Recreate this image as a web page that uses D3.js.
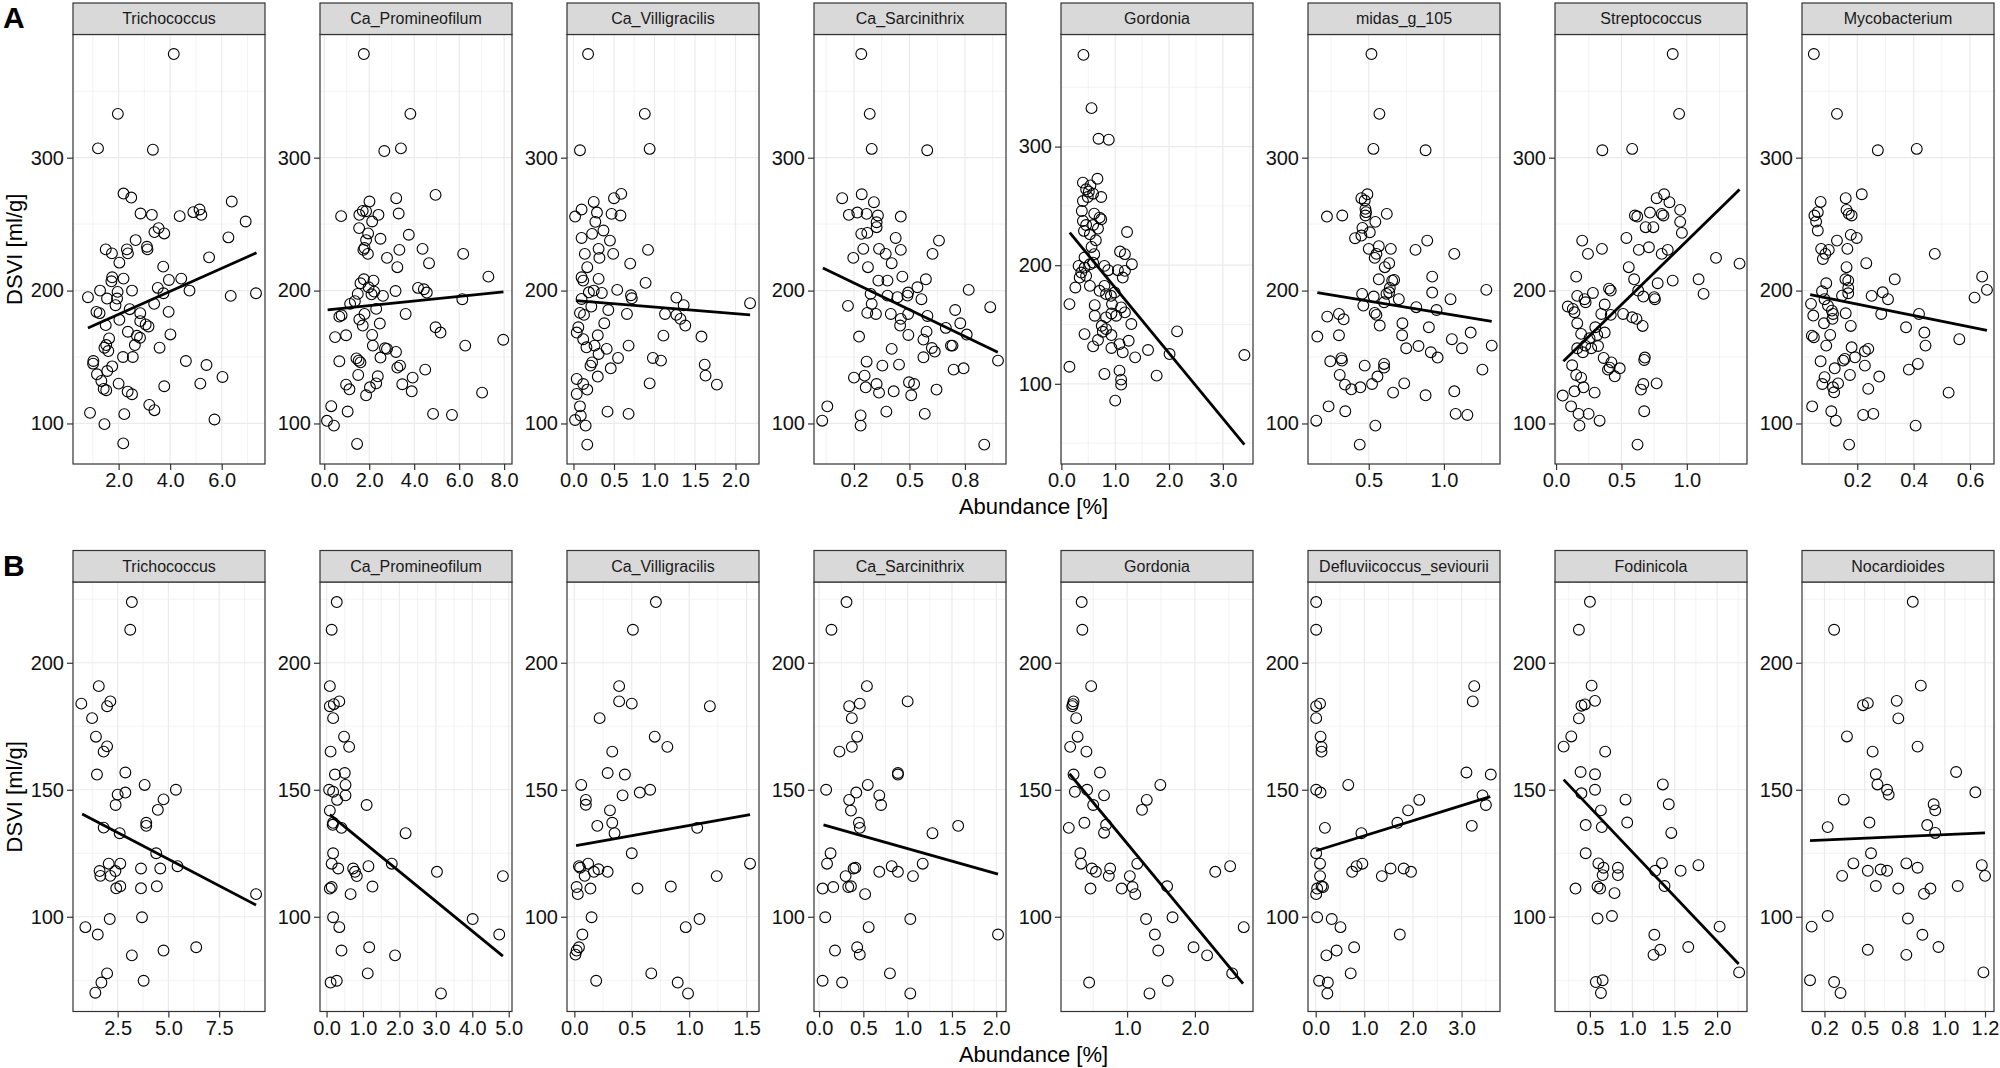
<!DOCTYPE html>
<html>
<head>
<meta charset="utf-8">
<script src="https://cdn.jsdelivr.net/npm/d3@7/dist/d3.min.js"></script>
<style>
  body { margin: 0; background: #fff; }
  text { font-family: Arial, "Liberation Sans", sans-serif; }
</style>
</head>
<body>
<svg id="chart" width="2000" height="1068"></svg>
<script>
// ---- data: [abundance %, DSVI ml/g] ----
const A_Trichococcus = [[4.14,378],[1.97,333],[1.2,307],[3.33,306],[2.19,273],[2.49,270],[2.85,258],[3.29,257],[4.37,256],[4.9,259],[5.14,261],[5.21,257],[6.39,267],[6.93,252],[6.26,240],[2.66,238],[3.1,233],[3.12,231],[3.39,244],[3.55,247],[3.77,243],[1.5,231],[1.74,228],[2.03,221],[2.32,231],[2.36,228],[3.73,218],[5.51,225],[4.43,209],[3.95,208],[2.19,209],[1.75,210],[1.72,207],[1.28,200],[0.81,195],[1.55,194],[1.96,199],[1.94,194],[1.88,189],[2.52,200],[3.52,202],[3.74,198],[4.75,200],[6.35,196],[7.33,198],[1.14,184],[1.26,183],[2.43,186],[2.84,183],[2.84,177],[3.05,174.5],[3.16,173],[3.38,190],[3.94,184],[2.03,178],[1.5,174],[2.36,169],[2.71,166],[2.83,164.5],[2.63,159],[1.63,164],[1.52,159],[1.45,157],[1.6,154.5],[4.01,167],[3.59,157],[4.61,147],[5.41,144],[2.17,150],[2.55,150],[1.02,147],[1.01,145],[1.16,137],[1.75,143],[1.56,139.5],[1.33,132],[1.42,126],[1.52,125],[2.0,130],[2.35,124],[2.52,122],[3.77,128],[5.17,130],[6.03,135],[3.19,114],[3.39,110],[0.89,108],[2.22,107],[1.45,99.5],[5.72,103],[2.18,85]];
const A_Promineofilum = [[1.76,378],[3.83,333],[2.67,305],[3.41,307],[4.95,272],[3.2,269.5],[2.01,267],[3.31,258],[0.75,256],[1.56,257],[1.71,260],[1.86,259.7],[2.41,257],[2.13,252],[1.55,247],[1.95,243],[2.5,239],[3.76,242],[1.86,238],[1.79,232],[1.74,230.6],[1.94,227.6],[3.34,230.6],[4.37,231.4],[6.18,227.6],[2.79,224.6],[4.66,220.6],[3.25,217.6],[7.3,210.5],[1.76,208.5],[2.19,207.5],[1.61,205.5],[1.97,202.5],[2.22,199.2],[2.1,197.2],[2.61,196],[1.49,197.5],[1.15,190],[1.36,192],[3.17,199.7],[4.17,202],[4.43,201],[4.56,198.5],[6.14,193.5],[0.77,181.4],[0.67,180.4],[1.79,182.4],[2.31,186.2],[1.56,178.2],[1.71,173.7],[2.47,175.2],[3.62,182.4],[4.95,172.4],[5.17,168.4],[0.48,165],[0.97,166.4],[2.13,166.6],[2.16,158.6],[6.27,158.6],[7.96,163],[2.7,156.6],[2.79,156.1],[3.19,153.8],[0.67,146.8],[1.43,149],[1.53,147.3],[1.61,146],[2.5,149.6],[3.25,142],[3.37,143.5],[4.49,140.5],[1.51,136.5],[2.38,135.5],[2.31,130.2],[0.97,129.2],[1.12,125.7],[2.03,127.2],[1.86,121.2],[3.47,129.5],[3.93,134.5],[3.89,124.2],[7.02,123.2],[0.31,113],[1.04,109],[4.84,107.2],[5.68,106.4],[0.12,102],[0.43,98.4],[1.46,84.6]];
const A_Villigracilis = [[0.18,378],[0.88,333],[0.94,306.6],[0.08,305.6],[0.59,272.8],[0.5,269.5],[0.25,266.7],[0.1,261],[0.02,255.7],[0.29,258.7],[0.47,257.7],[0.58,256.5],[0.27,251.7],[0.37,245.2],[0.23,242.7],[0.1,239.6],[0.45,237.6],[0.31,231.4],[0.49,227.6],[0.14,227.6],[0.32,224.6],[0.92,230.6],[0.7,220.3],[0.17,217.6],[0.1,210],[0.12,207.5],[0.31,208.8],[0.89,205.8],[0.54,200.5],[0.25,200],[0.35,198.2],[0.19,198.7],[0.1,193.7],[0.71,196.5],[0.72,194.2],[1.27,194.7],[1.36,189],[0.22,188],[0.43,185.4],[0.08,183.2],[0.13,181.7],[0.66,182.4],[1.13,182.4],[1.27,181.7],[1.32,178.7],[1.38,173.7],[0.38,175.4],[0.06,172.4],[0.04,168.4],[0.12,163.4],[0.3,166.4],[1.11,166.1],[1.58,165.4],[0.68,158.6],[0.16,157.3],[0.26,158.6],[0.41,156.1],[0.31,152.3],[0.98,149.3],[1.08,147.3],[0.55,149.3],[0.23,146],[0.21,143.5],[0.46,141.5],[0.3,135.3],[1.62,144.3],[1.63,136],[1.77,129.2],[0.04,133.5],[0.12,129.7],[0.04,122.2],[0.17,125.5],[0.94,130.2],[0.08,112.9],[0.09,105.9],[0.02,102.6],[0.15,98.4],[0.42,108.9],[0.68,107.2],[0.17,84.1],[2.18,190.5]];
const A_Sarcinithrix = [[0.283,378],[0.321,333],[0.33,306.6],[0.58,305.6],[0.197,269.5],[0.285,272.5],[0.34,266.5],[0.227,257],[0.265,258.7],[0.307,257.7],[0.358,256.5],[0.352,251.4],[0.352,247.7],[0.461,255.7],[0.283,242.7],[0.31,243.4],[0.438,239.6],[0.633,237.6],[0.292,231.4],[0.363,231.4],[0.461,230.6],[0.393,227.6],[0.604,227.6],[0.247,224.6],[0.42,220.6],[0.313,217.6],[0.468,210.5],[0.36,207.5],[0.401,207.5],[0.574,208.5],[0.536,202.5],[0.767,200.5],[0.325,197.5],[0.401,196.2],[0.446,195],[0.494,198.5],[0.491,196.2],[0.554,193.5],[0.33,190],[0.223,188.5],[0.864,187.5],[0.31,183.2],[0.349,182.4],[0.416,182.4],[0.494,182.4],[0.581,180.9],[0.706,185.4],[0.461,178.7],[0.458,173.7],[0.664,171.9],[0.729,175.4],[0.758,166.9],[0.273,165.4],[0.495,166.6],[0.577,169.1],[0.563,163.1],[0.687,158.6],[0.694,158.6],[0.601,156.8],[0.614,154.1],[0.42,156.1],[0.563,149.8],[0.307,146.5],[0.899,147.3],[0.378,143.5],[0.453,144.3],[0.699,140.5],[0.744,141.5],[0.25,134.5],[0.298,136],[0.303,127.2],[0.352,129.7],[0.363,123.2],[0.429,124.2],[0.498,131],[0.521,129.7],[0.508,121.2],[0.622,125.5],[0.13,112.9],[0.107,102.1],[0.28,106.1],[0.28,98.4],[0.396,108.9],[0.569,107.2],[0.837,84.1]];
const A_Gordonia = [[0.41,377.3],[0.56,332.4],[0.69,306.6],[0.88,305.8],[0.4,269.6],[0.67,272.9],[0.54,267.3],[0.46,264],[0.51,262],[0.74,257.5],[0.4,254.1],[0.49,257.5],[0.59,260.3],[0.38,245.7],[0.61,243.5],[0.71,240.1],[0.74,238.7],[0.4,237.3],[0.46,233.9],[0.59,233.9],[0.68,230.9],[0.42,228.9],[0.53,226.1],[0.64,221],[1.22,228],[0.56,215.4],[0.61,209.3],[0.43,206.5],[0.59,202.2],[0.32,199.4],[0.43,198],[0.53,200.8],[1.09,211.5],[1.18,209.3],[0.8,199.4],[0.87,195.8],[0.37,193.8],[0.46,191],[0.34,189.6],[1.05,195.8],[1.18,195.2],[1.31,200.8],[1.14,189.6],[0.26,181.2],[0.53,182.6],[0.8,182.6],[0.71,178.4],[0.92,174.2],[0.83,175.6],[0.99,177],[0.15,167.2],[0.62,166.3],[0.94,167.2],[1.11,164.4],[1.18,160.2],[0.93,159.3],[0.83,156],[1.02,157.4],[0.62,157.4],[1.3,150.4],[0.43,141.9],[0.75,148.9],[0.83,146.1],[0.77,143.9],[0.93,141.1],[1.25,136.3],[0.68,136.9],[0.59,131.6],[0.93,130.2],[1.08,133.5],[1.14,126.5],[1.37,122.3],[1.61,128.5],[2.01,125.1],[2.15,144.2],[3.4,124.3],[0.15,114.4],[0.8,108.3],[1.08,111.1],[1.11,103.5],[1.11,99.3],[1.0,85.8],[1.77,106.9]];
const A_midas105 = [[0.518,378],[0.571,333],[0.531,306.6],[0.878,305.6],[0.491,272.5],[0.451,269.5],[0.473,267.8],[0.478,261.5],[0.482,259],[0.478,256.5],[0.222,255.7],[0.324,256.5],[0.62,257.7],[0.544,251.7],[0.458,247.2],[0.507,243.9],[0.409,239.4],[0.451,241.4],[0.889,237.6],[0.5,231.4],[0.567,233.4],[0.647,231.4],[0.811,230.6],[0.551,227.6],[0.54,224.6],[1.069,227.6],[0.607,217.6],[0.636,220.6],[0.567,208.5],[0.656,207.5],[0.669,208],[0.922,210.5],[0.64,202],[0.636,198.7],[0.618,197.5],[0.456,197.5],[0.533,195.5],[0.922,198.5],[1.044,193.5],[1.282,200.5],[0.464,188.7],[0.602,191.2],[0.7,193.5],[0.816,187.5],[0.951,185.4],[0.302,182.4],[0.224,180.4],[0.333,178.4],[0.54,183.2],[0.551,181.7],[0.573,173.7],[0.724,175.4],[0.9,172.4],[0.158,165.4],[0.302,166.4],[0.722,166.4],[1.178,168.4],[1.053,163.4],[1.12,156.6],[1.318,158.6],[0.749,156.6],[0.831,158.3],[0.913,153.6],[0.958,149.6],[0.244,146.8],[0.318,149.1],[0.322,147.3],[0.473,143.5],[0.602,144.8],[0.602,142],[0.307,136.5],[0.342,129.2],[0.384,125.7],[0.444,127.2],[0.522,129.7],[0.558,135.3],[0.662,123.2],[0.736,130.2],[0.878,121.2],[1.069,124.2],[1.256,140.5],[0.233,112.9],[0.344,109.2],[1.078,107.2],[1.156,106.4],[0.151,102.1],[0.544,98.4],[0.44,84.1]];
const A_Streptococcus = [[0.892,378],[0.941,333],[0.354,305.6],[0.582,306.6],[0.826,272.5],[0.769,269.5],[0.867,266.5],[0.718,258.7],[0.603,256.5],[0.621,255.7],[0.808,257.7],[0.821,256.5],[0.949,260.7],[0.949,251.7],[0.685,247.7],[0.744,247.7],[0.962,243.4],[0.538,239.6],[0.2,237.6],[0.351,231.4],[0.633,230.6],[0.71,232.6],[0.854,230.6],[0.244,227.6],[0.808,227.6],[1.223,224.6],[1.403,220.3],[0.556,217.6],[0.597,208.5],[0.892,207.5],[1.09,208.5],[0.154,210.5],[0.777,205.5],[1.128,197.5],[0.405,201.5],[0.418,200],[0.282,198.2],[0.162,196],[0.218,193.5],[0.226,191.2],[0.628,200],[0.667,195.5],[0.751,195],[0.756,193.5],[0.09,188],[0.128,186.2],[0.141,183.7],[0.372,189.5],[0.346,182.4],[0.513,182.4],[0.418,181.7],[0.582,179.9],[0.615,178.7],[0.162,175.4],[0.3,172.4],[0.662,173.4],[0.192,167.4],[0.256,164.1],[0.315,166.6],[0.372,168.4],[0.162,156.6],[0.223,158.6],[0.269,156.6],[0.321,158.3],[0.205,153.6],[0.364,149.3],[0.423,146],[0.41,142],[0.397,140.5],[0.487,141.5],[0.449,135.5],[0.679,149.6],[0.674,147.8],[0.123,143.8],[0.154,136.5],[0.192,134.5],[0.21,127.2],[0.141,124.2],[0.295,123.2],[0.667,129.7],[0.769,130.2],[0.649,125.5],[0.051,121],[0.115,112.9],[0.172,107.2],[0.249,107.2],[0.333,102.1],[0.179,98.4],[0.674,109.2],[0.623,84.1]];
const A_Mycobacterium = [[0.046,378],[0.128,333],[0.273,305.6],[0.411,306.6],[0.216,272.5],[0.07,266.7],[0.159,269.5],[0.048,256.5],[0.06,259],[0.162,260.7],[0.17,257.7],[0.18,256.5],[0.054,251.9],[0.06,245.2],[0.128,237.6],[0.177,241.9],[0.198,239.6],[0.072,231.4],[0.099,230.6],[0.087,227.6],[0.078,223.8],[0.165,231.4],[0.232,220.6],[0.475,227.6],[0.162,217.6],[0.158,208.5],[0.168,207.5],[0.333,208.5],[0.09,205.5],[0.075,199.5],[0.168,202],[0.168,198],[0.146,196.2],[0.251,196],[0.29,198.7],[0.309,193.5],[0.616,194.7],[0.643,210.5],[0.66,200.5],[0.036,190],[0.084,193.5],[0.096,188.7],[0.11,184.9],[0.114,182.4],[0.044,181.2],[0.159,182.9],[0.285,182.4],[0.419,182.4],[0.082,175.4],[0.112,178.7],[0.177,173.4],[0.373,172.4],[0.039,166.1],[0.046,164.9],[0.104,166.6],[0.09,158.6],[0.438,168.4],[0.442,158.6],[0.562,163.4],[0.18,157.3],[0.227,154.3],[0.239,156.1],[0.07,146.8],[0.156,148.6],[0.15,147.3],[0.192,149.8],[0.227,143.5],[0.383,140.5],[0.415,144.8],[0.084,134.8],[0.076,129.7],[0.12,141.5],[0.174,136.5],[0.278,135.3],[0.132,130.2],[0.114,127.2],[0.118,123.5],[0.239,126],[0.524,123.2],[0.04,112.9],[0.108,109.2],[0.124,102.1],[0.221,106.4],[0.257,107.2],[0.407,98.4],[0.171,84.1]];

const B_Trichococcus = [[3.2,223.9],[3.12,213],[1.57,190.8],[0.71,183.9],[1.98,182.9],[2.14,184.8],[1.24,178.2],[1.43,170.9],[1.98,167.1],[1.81,165],[1.48,156],[2.88,156.8],[3.83,151.9],[5.37,150],[2.88,148.9],[2.5,148.1],[4.76,146.2],[2.4,144],[4.48,142.1],[1.81,135.1],[3.91,137],[3.91,135.8],[2.6,132.9],[4.4,125],[2.06,120.9],[2.63,120.9],[1.61,118],[1.65,116.1],[2.14,116.1],[2.39,118],[3.65,119],[4.6,119],[5.45,119.9],[2.43,111.2],[2.63,112],[3.65,111.2],[4.43,112],[9.32,108.9],[2.11,99.1],[3.7,99.8],[0.91,95.9],[1.52,93],[3.2,84.8],[4.76,86.7],[6.37,88],[1.98,77.7],[1.7,74.1],[3.78,74.8],[1.4,70.1]];
const B_Promineofilum = [[0.28,223.9],[0.14,213],[0.09,190.8],[0.09,182.9],[0.2,183.7],[0.35,184.8],[0.18,178.2],[0.48,170.9],[0.62,166.9],[0.11,165],[0.23,156],[0.5,156.6],[0.52,151.9],[0.07,150],[0.18,149.2],[0.52,147.8],[0.29,146],[1.1,144],[0.09,141.8],[0.18,137],[0.17,136.2],[0.41,135],[2.17,132.9],[0.18,125],[0.14,120.9],[0.32,119],[0.73,119],[0.78,117.7],[0.83,116],[1.15,119.9],[1.79,120.9],[3.03,117.7],[4.84,116],[0.14,111.7],[0.09,111.1],[1.26,111.9],[0.66,108.9],[0.18,99.8],[0.35,95.9],[4.01,99.1],[4.74,93],[0.41,86.7],[1.17,88],[1.88,84.8],[1.13,77.7],[0.11,74.1],[0.28,74.8],[3.14,69.8]];
const B_Villigracilis = [[0.71,223.9],[0.51,213],[0.39,190.8],[0.39,184.8],[0.5,183.9],[1.18,182.9],[0.22,178.2],[0.7,170.9],[0.81,166.9],[0.33,165],[0.29,156.6],[0.44,156],[0.06,151.9],[0.66,150],[0.57,148.9],[0.42,147.8],[0.1,146],[0.1,144.1],[0.31,141.9],[0.33,137],[0.2,135.8],[0.35,132.9],[1.07,135],[0.5,125],[0.04,119.9],[0.05,119.3],[0.12,120.9],[0.09,116.1],[0.17,117.7],[0.21,118.7],[0.29,117.7],[1.53,120.9],[1.24,116],[0.02,111.7],[0.03,108.9],[0.14,111.1],[0.55,111.1],[0.84,111.9],[0.15,99.8],[1.09,99.1],[0.97,95.9],[0.07,93],[0.04,88],[0.02,86.7],[0.01,85.1],[0.19,74.8],[0.67,77.7],[0.9,74.1],[0.99,69.8]];
const B_Sarcinithrix = [[0.31,223.9],[0.14,213],[0.54,190.8],[1.0,184.8],[0.34,182.9],[0.46,183.9],[0.37,178.2],[0.43,170.9],[0.37,166.9],[0.23,165],[0.89,156.6],[0.89,156],[0.55,151.9],[0.08,150],[0.42,148.9],[0.68,147.8],[0.34,146],[0.7,144],[0.36,141.8],[0.45,137],[0.46,135],[1.57,135.8],[1.28,132.9],[0.13,125],[0.09,120.9],[0.39,119],[0.41,119.3],[0.82,119.9],[1.17,120.9],[0.68,117.7],[0.89,117.7],[0.3,116],[1.06,116],[0.04,111.1],[0.16,111.7],[0.33,111.7],[0.36,112],[0.52,108.9],[0.07,99.8],[1.03,99.1],[0.56,95.9],[2.02,93],[0.18,86.7],[0.43,88],[0.46,85.1],[0.8,77.7],[0.04,74.8],[0.26,74.1],[1.03,69.8]];
const B_Gordonia = [[0.33,223.9],[0.34,213],[0.47,190.8],[0.21,184.8],[0.2,183.7],[0.19,182.9],[0.25,178.2],[0.27,170.9],[0.16,166.9],[0.4,165],[0.6,156.8],[0.21,156],[1.49,151.9],[0.41,150],[0.23,149.2],[0.66,147.8],[1.29,146],[0.5,144],[1.22,142.1],[0.37,137],[0.69,136.2],[0.66,133.1],[0.14,135],[0.31,125],[0.32,120.9],[1.15,120.9],[2.52,119.9],[0.48,119],[0.54,117.7],[0.75,119],[0.73,116.1],[1.04,116],[2.3,117.7],[0.46,111.1],[0.92,111.1],[1.08,111.7],[1.12,108.9],[1.59,112],[1.28,99.1],[1.67,99.8],[2.72,95.9],[1.41,93],[1.46,86.7],[1.98,88],[2.18,84.8],[2.55,77.7],[0.44,74.1],[1.6,74.8],[1.33,69.8]];
const B_Defluviicoccus = [[0.01,223.9],[0.01,213],[3.26,190.8],[3.23,184.8],[0.01,182.9],[0.09,183.9],[0.01,178.2],[0.1,170.9],[0.12,166.9],[0.12,165],[3.1,156.8],[3.6,156],[0.67,151.9],[0.01,150],[0.1,148.9],[3.43,147.8],[2.13,146],[3.5,144],[1.9,141.9],[1.68,137],[0.19,135],[3.21,135.8],[0.94,132.9],[0.01,125],[0.09,120.9],[0.96,120.9],[0.84,119.9],[1.54,119],[1.81,119],[1.96,117.7],[0.75,117.7],[0.09,116],[1.36,116],[0.15,111.7],[0.12,112],[0.03,111.1],[0.01,108.9],[0.03,99.8],[0.33,99.1],[0.51,95.9],[1.73,93],[0.43,86.7],[0.79,88],[0.22,84.8],[0.72,77.7],[0.07,74.8],[0.25,74.1],[0.24,69.8]];
const B_Fodinicola = [[0.5,224],[0.37,213],[0.52,191],[0.44,183.6],[0.56,185],[0.4,183.1],[0.37,178.1],[0.28,171],[0.19,167],[0.68,165],[0.39,157],[0.56,156.1],[0.56,150],[0.4,148.6],[1.36,152.1],[0.92,146.1],[1.43,144.3],[0.63,141.9],[0.45,136.1],[0.64,135.3],[0.94,137.1],[1.46,133],[0.45,125],[0.6,121],[0.66,119.3],[0.65,116.4],[0.83,119.3],[0.83,116.4],[1.27,118.1],[1.35,121.1],[1.57,118.1],[1.78,120.3],[0.33,111.1],[0.59,111.9],[0.62,111.1],[0.79,109.3],[1.38,112.1],[0.59,99.3],[0.76,100.3],[1.26,92.9],[2.03,96.1],[1.25,85],[1.33,87],[1.66,88.1],[0.57,74.3],[0.65,75],[0.63,70],[2.26,78.1]];
const B_Nocardioides = [[0.8,224],[0.31,213],[0.85,191],[0.49,183.3],[0.52,184.1],[0.7,185],[0.71,178.1],[0.39,171],[0.83,167],[0.55,165],[0.57,156.1],[0.58,152.1],[0.64,150],[0.65,148.1],[1.07,157],[1.19,149],[0.37,146.1],[0.93,144.3],[0.94,141.9],[0.89,136.1],[0.53,137.1],[0.27,135.3],[0.94,133],[0.54,125],[0.43,121],[0.76,121],[0.83,119.3],[0.6,118.6],[0.64,118.1],[0.52,118.1],[1.23,120.3],[1.25,116.1],[0.36,116.1],[0.57,112.1],[0.71,111.1],[0.91,111.1],[0.87,109],[1.08,112.1],[0.27,100.3],[0.17,96.1],[0.77,99.3],[0.86,92.9],[0.52,87],[0.76,85],[0.96,88.1],[1.24,78.1],[0.16,75],[0.31,74.3],[0.35,70]];

// genus names per row
const generaA = ["Trichococcus", "Ca_Promineofilum", "Ca_Villigracilis", "Ca_Sarcinithrix", "Gordonia", "midas_g_105", "Streptococcus", "Mycobacterium"];
const generaB = ["Trichococcus", "Ca_Promineofilum", "Ca_Villigracilis", "Ca_Sarcinithrix", "Gordonia", "Defluviicoccus_seviourii", "Fodinicola", "Nocardioides"];
const pointsA = [A_Trichococcus, A_Promineofilum, A_Villigracilis, A_Sarcinithrix, A_Gordonia, A_midas105, A_Streptococcus, A_Mycobacterium];
const pointsB = [B_Trichococcus, B_Promineofilum, B_Villigracilis, B_Sarcinithrix, B_Gordonia, B_Defluviicoccus, B_Fodinicola, B_Nocardioides];

// linear fit end points [x0, y0, x1, y1]
const fitA = [[0.81,171.8,7.35,228.4],[0.15,185.4,7.97,199],[0.03,192.5,2.18,181.7],[0.11,217,0.898,153.6],[0.155,227.5,3.4,48.8],[0.158,198.5,1.318,176.9],[0.056,146.8,1.403,276],[0.033,197,0.66,170.1]];
const fitB = [[0.75,140.5,9.32,104.6],[0.09,140.2,4.84,84.5],[0.015,128,1.53,140.2],[0.05,136.2,2.02,116.8],[0.15,156.3,2.71,73.7],[0.01,126,3.59,147.3],[0.19,154,2.255,81.4],[0.16,130,1.25,133]];

// x limits of each panel
const xlimA = [[0.23,7.68],[-0.19,8.35],[-0.08,2.29],[0.07,0.935],[-0.007,3.56],[0.096,1.373],[-0.008,1.46],[0.004,0.685]];
const xlimB = [[0.3,9.76],[-0.18,5.09],[-0.064,1.608],[-0.057,2.11],[0.025,2.857],[-0.158,3.79],[0.088,2.353],[0.11,1.306]];

// x breaks and their printed labels
const xbreaksA = [[2,4,6],[0,2,4,6,8],[0,0.5,1,1.5,2],[0.25,0.5,0.75],[0,1,2,3],[0.5,1],[0,0.5,1],[0.2,0.4,0.6]];
const xlabelsA = [["2.0","4.0","6.0"],["0.0","2.0","4.0","6.0","8.0"],["0.0","0.5","1.0","1.5","2.0"],["0.2","0.5","0.8"],["0.0","1.0","2.0","3.0"],["0.5","1.0"],["0.0","0.5","1.0"],["0.2","0.4","0.6"]];
const xbreaksB = [[2.5,5,7.5],[0,1,2,3,4,5],[0,0.5,1,1.5],[0,0.5,1,1.5,2],[1,2],[0,1,2,3],[0.5,1,1.5,2],[0.25,0.5,0.75,1,1.25]];
const xlabelsB = [["2.5","5.0","7.5"],["0.0","1.0","2.0","3.0","4.0","5.0"],["0.0","0.5","1.0","1.5"],["0.0","0.5","1.0","1.5","2.0"],["1.0","2.0"],["0.0","1.0","2.0","3.0"],["0.5","1.0","1.5","2.0"],["0.2","0.5","0.8","1.0","1.2"]];

// y limits and breaks
const ylimA = [69.5, 392.7];
const ylimA_Gordonia = [32.4, 394.5];
const ybreaksA = [100, 200, 300];
const ylimB = [62.7, 231.8];
const ybreaksB = [100, 150, 200];

// ---- layout ----
const svg = d3.select("#chart");
const panelW = 192, panelStep = 247, firstLeft = 73;
const stripTop = 3, stripH = 31.5, panelTop = 34.5, panelBottom = 464;
const panelH = panelBottom - panelTop;
const rows = [
  { label: "A", top: 0, genera: generaA, pts: pointsA, fit: fitA, xlim: xlimA, xb: xbreaksA, xl: xlabelsA,
    ylim: i => (i === 4 ? ylimA_Gordonia : ylimA), yb: ybreaksA },
  { label: "B", top: 547.5, genera: generaB, pts: pointsB, fit: fitB, xlim: xlimB, xb: xbreaksB, xl: xlabelsB,
    ylim: () => ylimB, yb: ybreaksB }
];

const minorOf = (breaks, dom) => {
  const step = breaks.length > 1 ? breaks[1] - breaks[0] : 1;
  const out = [];
  for (let v = breaks[0] - step / 2; v <= dom[1]; v += step) {
    if (v >= dom[0]) out.push(v);
  }
  return out;
};

rows.forEach((row) => {
  const rg = svg.append("g").attr("transform", `translate(0,${row.top})`);

  rg.append("text")
    .attr("x", 3).attr("y", 28)
    .style("font-size", "30px").style("font-weight", "bold")
    .text(row.label);

  rg.append("text")
    .attr("transform", `translate(22,${(panelTop + panelBottom) / 2}) rotate(-90)`)
    .attr("text-anchor", "middle")
    .style("font-size", "22px")
    .text("DSVI [ml/g]");

  rg.append("text")
    .attr("x", firstLeft + (7 * panelStep + panelW) / 2)
    .attr("y", panelBottom + 50)
    .attr("text-anchor", "middle")
    .style("font-size", "22px")
    .text("Abundance [%]");

  row.genera.forEach((name, i) => {
    const left = firstLeft + i * panelStep;
    const g = rg.append("g").attr("transform", `translate(${left},${panelTop})`);
    const xdom = row.xlim[i], ydom = row.ylim(i);
    const x = d3.scaleLinear().domain(xdom).range([0, panelW]);
    const y = d3.scaleLinear().domain(ydom).range([panelH, 0]);

    g.append("rect").attr("width", panelW).attr("height", panelH).attr("fill", "#fff");

    // grid
    const ystep = row.yb[1] - row.yb[0];
    const yMinor = minorOf(row.yb, ydom);
    const yMajor = d3.range(row.yb[0] - ystep * 3, ydom[1], ystep).filter(v => v >= ydom[0]);
    const xMinor = minorOf(row.xb[i], xdom);
    g.selectAll(".xminor").data(xMinor).join("line")
      .attr("x1", d => x(d)).attr("x2", d => x(d)).attr("y1", 0).attr("y2", panelH)
      .attr("stroke", "#ebebeb").attr("stroke-width", 0.6);
    g.selectAll(".yminor").data(yMinor).join("line")
      .attr("y1", d => y(d)).attr("y2", d => y(d)).attr("x1", 0).attr("x2", panelW)
      .attr("stroke", "#ebebeb").attr("stroke-width", 0.6);
    g.selectAll(".xmajor").data(row.xb[i]).join("line")
      .attr("x1", d => x(d)).attr("x2", d => x(d)).attr("y1", 0).attr("y2", panelH)
      .attr("stroke", "#ebebeb").attr("stroke-width", 1.2);
    g.selectAll(".ymajor").data(yMajor).join("line")
      .attr("y1", d => y(d)).attr("y2", d => y(d)).attr("x1", 0).attr("x2", panelW)
      .attr("stroke", "#ebebeb").attr("stroke-width", 1.2);

    // points
    g.selectAll("circle").data(row.pts[i]).join("circle")
      .attr("cx", d => x(d[0])).attr("cy", d => y(d[1])).attr("r", 5.4)
      .attr("fill", "none").attr("stroke", "#000").attr("stroke-width", 1.1);

    // fit
    const f = row.fit[i];
    g.append("path")
      .attr("d", d3.line().x(d => x(d[0])).y(d => y(d[1]))([[f[0], f[1]], [f[2], f[3]]]))
      .attr("stroke", "#000").attr("stroke-width", 2.8).attr("fill", "none");

    // border
    g.append("rect").attr("width", panelW).attr("height", panelH)
      .attr("fill", "none").attr("stroke", "#333").attr("stroke-width", 1.2);

    // strip
    g.append("rect").attr("y", stripTop - panelTop).attr("width", panelW).attr("height", stripH)
      .attr("fill", "#d9d9d9").attr("stroke", "#333").attr("stroke-width", 1.2);
    g.append("text")
      .attr("x", panelW / 2).attr("y", stripTop - panelTop + stripH / 2 + 5.5)
      .attr("text-anchor", "middle").attr("fill", "#1a1a1a")
      .style("font-size", "16px").text(name);

    // axes
    const ax = g.append("g").attr("transform", `translate(0,${panelH})`)
      .call(d3.axisBottom(x).tickValues(row.xb[i]).tickFormat((d, k) => row.xl[i][k]).tickSize(6).tickPadding(3));
    const ay = g.append("g")
      .call(d3.axisLeft(y).tickValues(row.yb.filter(v => v >= ydom[0] && v <= ydom[1])).tickSize(6).tickPadding(3));
    [ax, ay].forEach(a => {
      a.select(".domain").remove();
      a.selectAll(".tick line").attr("stroke", "#333").attr("stroke-width", 1.2);
      a.selectAll(".tick text").attr("fill", "#111")
        .style("font-size", "20px").style("font-family", "Arial, 'Liberation Sans', sans-serif");
    });
  });
});
</script>
</body>
</html>
